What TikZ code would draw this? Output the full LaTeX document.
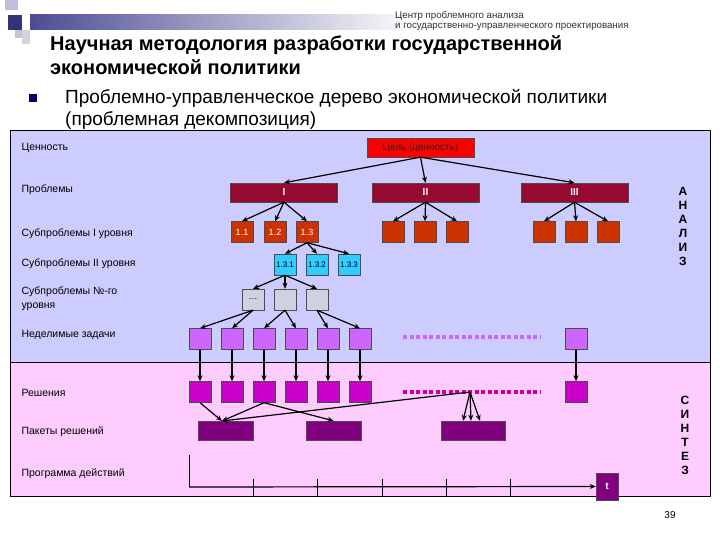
\documentclass[tikz,border=0pt]{standalone}
\usepackage{fontspec}
\setmainfont{Liberation Sans}
\usetikzlibrary{arrows.meta}
\definecolor{pblue}{RGB}{204,204,255}
\definecolor{ppink}{RGB}{255,204,255}
\definecolor{cprob}{RGB}{150,10,50}
\definecolor{csub}{RGB}{204,51,0}
\definecolor{ccyan}{RGB}{51,204,255}
\definecolor{cgray}{RGB}{208,208,224}
\definecolor{cviol}{RGB}{204,102,255}
\definecolor{csol}{RGB}{204,0,204}
\definecolor{cdots}{RGB}{204,0,153}
\definecolor{cpkg}{RGB}{128,0,128}
\begin{document}
\begin{tikzpicture}[x=1pt,y=-1pt,
  bx/.style={draw=black!70,line width=0.4pt,minimum width=22pt,minimum height=21pt,inner sep=0pt,font=\fontsize{9}{10}\selectfont},
  lbl/.style={anchor=west,font=\fontsize{10.5}{14}\selectfont,align=left},
  ar/.style={-{Stealth[length=6pt,width=5pt]},line width=1.2pt},
  big/.style={draw=black!70,minimum height=19pt,inner sep=0pt,text=white,font=\bfseries\fontsize{10}{11}\selectfont}]
\useasboundingbox (0,0) rectangle (720,540);
\fill[white] (0,0) rectangle (720,540);
% header decoration
\shade[left color=blue!40!black!70, right color=white] (30,15) rectangle (420,30);
\fill[blue!25!gray!40] (5,0) rectangle (18,10);
\fill[blue!35!black!80] (8,15) rectangle (22,30);
\fill[blue!15!gray!30] (22,30) rectangle (30,44);
\fill[blue!15!gray!40] (15,30) rectangle (22,38);
\node[anchor=north west,inner sep=0pt,font=\fontsize{9.7}{10}\selectfont,align=left,text=black!80] (hd) at (395,11) {Центр проблемного анализа\\и государственно-управленческого проектирования};
\node[anchor=west,inner sep=0pt,font=\bfseries\fontsize{20}{24}\selectfont,align=left] (title) at (50,55) {Научная методология разработки государственной\\экономической политики};
\fill[blue!40!black] (29,94) rectangle (37,102);
\node[anchor=west,inner sep=0pt,font=\fontsize{19}{22}\selectfont,align=left] (sub) at (65,109) {Проблемно-управленческое дерево экономической политики\\(проблемная декомпозиция)};
% panels
\draw[fill=pblue] (10,130) rectangle (710,362);
\draw[fill=ppink] (10,362) rectangle (710,496);
% labels
\node[lbl] (l1) at (18,148) {Ценность};
\node[lbl] (l2) at (18,190) {Проблемы};
\node[lbl] (l3) at (18,234) {Субпроблемы I уровня};
\node[lbl] (l4) at (18,264) {Субпроблемы II уровня};
\node[lbl] (l5) at (18,299) {Субпроблемы №-го\\уровня};
\node[lbl] (l6) at (18,335) {Неделимые задачи};
\node[lbl] (l7) at (18,393) {Решения};
\node[lbl] (l8) at (18,432) {Пакеты решений};
\node[lbl] (l9) at (18,474) {Программа действий};
% side letters
\node[font=\bfseries\fontsize{12}{14}\selectfont,align=center] (an) at (683,226) {А\\Н\\А\\Л\\И\\З};
\node[font=\bfseries\fontsize{12}{14}\selectfont,align=center] (sy) at (685,435) {С\\И\\Н\\Т\\Е\\З};
% tree
\node[big,fill=red,minimum width=107pt,text=black!85,font=\fontsize{10}{11}\selectfont] (g) at (420.5,147.5) {Цель (ценность)};
\foreach \n/\x/\t in {p1/284/I,p2/425.5/II,p3/574.5/III}
  \node[big,fill=cprob,minimum width=107pt] (\n) at (\x,192.5) {\t};
\draw[ar] (g.south) -- (p1.north);
\draw[ar] (g.south) -- (p2.north);
\draw[ar] (g.south) -- (p3.north);
\foreach \n/\x/\t in {a1/242/1.1,a2/275/1.2,a3/307/1.3,b1/393/,b2/425/,b3/457/,c1/544/,c2/576/,c3/608/}
  \node[bx,fill=csub,text=white] (\n) at (\x,232) {\t};
\foreach \p/\a/\b/\c in {p1/a1/a2/a3,p2/b1/b2/b3,p3/c1/c2/c3}{
  \draw[ar] (\p.south) -- (\a.north); \draw[ar] (\p.south) -- (\b.north); \draw[ar] (\p.south) -- (\c.north);}
\foreach \n/\x/\t in {d1/285/1.3.1,d2/317/1.3.2,d3/349/1.3.3}
  \node[bx,fill=ccyan,font=\fontsize{8}{9}\selectfont] (\n) at (\x,264.5) {\t};
\draw[ar] (a3.south) -- (d1.north); \draw[ar] (a3.south) -- (d2.north); \draw[ar] (a3.south) -- (d3.north);
\foreach \n/\x/\t in {e1/253/\dots,e2/285/,e3/317/}
  \node[bx,fill=cgray] (\n) at (\x,299.5) {\t};
\draw[ar] (d1.south) -- (e1.north); \draw[ar] (d1.south) -- (e2.north); \draw[ar] (d1.south) -- (e3.north);
\foreach \n/\x in {t1/200,t2/232,t3/264,t4/296,t5/328,t6/360,t7/576}
  \node[bx,fill=cviol] (\n) at (\x,339) {};
\draw[ar] (e1.south) -- (t1.north); \draw[ar] (e1.south) -- (t2.north);
\draw[ar] (e2.south) -- (t3.north); \draw[ar] (e2.south) -- (t4.north);
\draw[ar] (e3.south) -- (t5.north); \draw[ar] (e3.south) -- (t6.north);
\coordinate (q1a) at (403,337); \coordinate (q1b) at (541,337);
\draw[line width=4pt,dash pattern=on 4pt off 2.5pt,cviol] (q1a) -- (q1b);
\foreach \n/\x in {s1/200,s2/232,s3/264,s4/296,s5/328,s6/360,s7/576}
  \node[bx,fill=csol] (\n) at (\x,392) {};
\foreach \i in {1,...,7} \draw[ar] (t\i.south) -- (s\i.north);
\coordinate (q2a) at (403,392); \coordinate (q2b) at (541,392);
\draw[line width=4pt,dash pattern=on 4pt off 2.5pt,cdots] (q2a) -- (q2b);
\coordinate (qm) at (470,392);
\foreach \n/\x/\w in {k1/225.5/55,k2/333.5/55,k3/473/64}
  \node[draw=black!70,fill=cpkg,minimum width=\w pt,minimum height=19pt,inner sep=0pt] (\n) at (\x,430.5) {};
\coordinate (k1t) at (222,421);
\draw[ar] (s1.south) -- (k1t);
\draw[ar] (s3.south) -- (k1t);
\draw[ar] (s3.south) -- (k2.north);
\draw[ar] (qm) -- (k1t);
\draw[ar] (qm) -- ([xshift=-10pt]k3.north);
\draw[ar] (qm) -- ([xshift=-2pt]k3.north);
\draw[ar] (qm) -- ([xshift=7pt]k3.north);
% time axis
\node[draw=black!70,fill=cpkg,minimum width=22pt,minimum height=27pt,inner sep=0pt,text=white,font=\bfseries\fontsize{10}{11}\selectfont] (tb) at (607,486.5) {t};
\coordinate (o) at (189,487); \coordinate (ot) at (189,455);
\draw[line width=0.6pt] (ot) -- (o);
\draw[ar] (o) -- (tb.west);
\foreach \x in {253,317,382,446,510} \draw[line width=0.5pt] (\x,479) -- (\x,496);
\node[font=\fontsize{10}{11}\selectfont] (pg) at (670,515) {39};
\end{tikzpicture}
\end{document}
